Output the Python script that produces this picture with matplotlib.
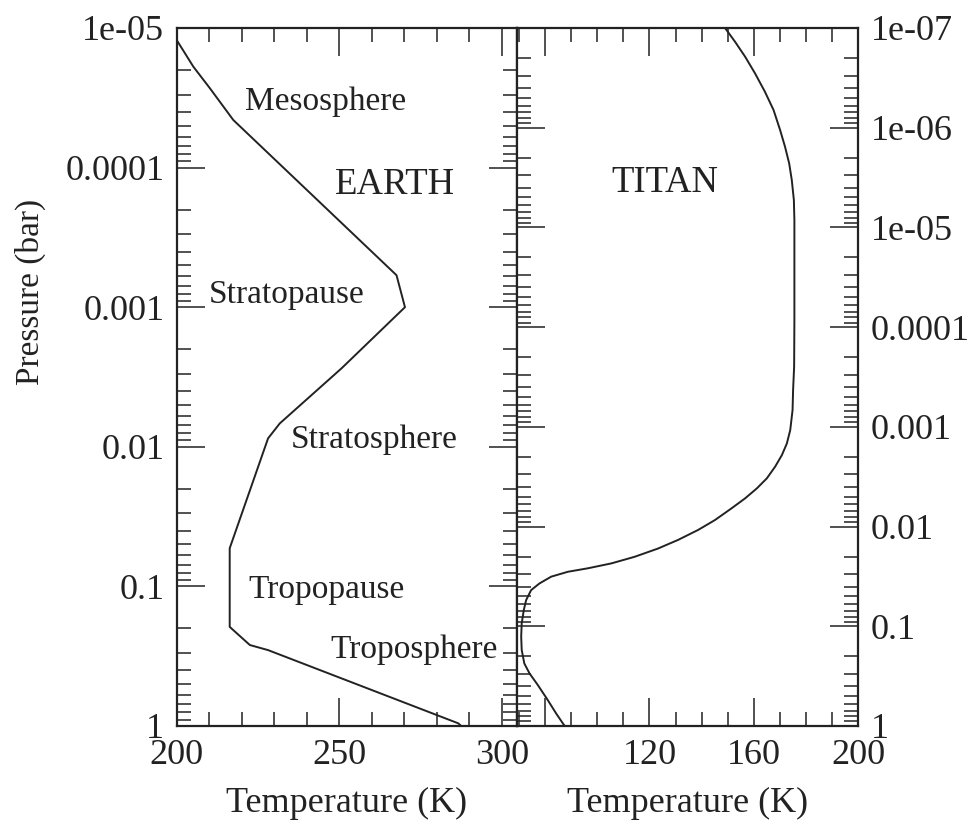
import matplotlib
matplotlib.use("Agg")
import matplotlib.pyplot as plt
from matplotlib.ticker import FixedLocator, LogLocator, FuncFormatter, NullFormatter
import numpy as np

plt.rcParams['font.family'] = ['Liberation Serif', 'DejaVu Serif']

# Earth temperature profile (K) vs pressure (bar)
earth_T = [200.0, 205.1, 210.2, 217.4, 267.6, 270.2, 250.7, 231.7, 228.1,
           216.3, 216.3, 222.5, 228.1, 286.6, 287.5]
earth_p = [1.22e-5, 1.89e-5, 2.70e-5, 4.56e-5, 5.9e-4, 1.0e-3, 2.74e-3, 6.8e-3, 8.7e-3,
           0.0533, 0.195, 0.263, 0.286, 0.957, 1.0]

# Titan temperature profile (K) vs pressure (bar)
titan_T = [149.0, 152.8, 156.7, 160.5, 164.3, 167.6, 170.1, 172.0, 173.6, 174.6, 175.4, 175.6,
           175.6, 175.5, 175.1, 174.9, 174.0, 172.7, 170.8, 168.2, 165.0, 161.2, 156.7, 151.5,
           145.1, 138.7, 131.0, 123.3, 114.3, 105.4, 96.4, 88.7, 82.3, 77.8, 74.6, 72.7, 71.8,
           71.0, 70.8, 71.0, 72.0, 74.0, 77.2, 81.0, 84.2, 86.8, 87.5]
titan_p = [1.0e-7, 1.37e-7, 1.94e-7, 2.85e-7, 4.36e-7, 6.64e-7, 1.05e-6, 1.55e-6, 2.28e-6, 3.35e-6, 5.31e-6, 8.43e-6,
           8.49e-5, 2.49e-4, 4.28e-4, 6.78e-4, 1.08e-3, 1.47e-3, 1.92e-3, 2.51e-3, 3.29e-3, 4.14e-3, 5.21e-3, 6.56e-3,
           8.61e-3, 1.08e-2, 1.36e-2, 1.66e-2, 2.01e-2, 2.34e-2, 2.62e-2, 2.84e-2, 3.18e-2, 3.72e-2, 4.34e-2, 5.46e-2, 6.87e-2,
           9.35e-2, 0.127, 0.173, 0.236, 0.297, 0.389, 0.550, 0.748, 0.942, 1.0]

earth_labels = ['Mesosphere', 'Stratopause', 'Stratosphere', 'Tropopause', 'Troposphere']
earth_label_T = [245.8, 233.9, 260.7, 246.2, 273.0]
earth_label_p = [3.39e-5, 8.2e-4, 8.9e-3, 0.106, 0.286]

earth_xticks = [200, 250, 300]
titan_xticks = [80, 120, 160, 200]
titan_xticklabels = ['', '120', '160', '200']

ink = '#222222'
W, H = 975, 825
fig = plt.figure(figsize=(W / 100, H / 100), dpi=100)

x0, x1, x2 = 176.7, 516.5, 858.0
yt, yb = 28.0, 726.0
axL = fig.add_axes([x0 / W, 1 - yb / H, (x1 - x0) / W, (yb - yt) / H])
axR = fig.add_axes([x1 / W, 1 - yb / H, (x2 - x1) / W, (yb - yt) / H])


def plabel(v, pos):
    e = int(round(np.log10(v)))
    if e <= -5:
        return '1e-%02d' % -e
    return ('%.*f' % (max(-e, 0), v))


for ax in (axL, axR):
    ax.set_yscale('log')
    ax.yaxis.set_major_locator(LogLocator(base=10, numticks=20))
    ax.yaxis.set_minor_locator(LogLocator(base=10, subs=np.arange(2, 10), numticks=20))
    ax.yaxis.set_major_formatter(FuncFormatter(plabel))
    ax.yaxis.set_minor_formatter(NullFormatter())
    ax.tick_params(which='both', direction='in', top=True, bottom=True, left=True, right=True,
                   colors=ink, labelsize=26, width=1.1, pad=9)
    ax.tick_params(which='major', length=20)
    ax.tick_params(which='minor', length=10)
    for s in ax.spines.values():
        s.set_linewidth(1.6)
        s.set_color(ink)

# Earth panel
axL.plot(earth_T, earth_p, color=ink, lw=1.4)
axL.set_xlim(200, 304.5)
axL.set_ylim(1.0, 1e-5)
axL.xaxis.set_major_locator(FixedLocator(earth_xticks))
axL.xaxis.set_minor_locator(FixedLocator(np.arange(200, 305, 10)))
axL.set_xlabel('Temperature (K)', fontsize=26, color=ink, labelpad=11)
for lab, t, p in zip(earth_labels, earth_label_T, earth_label_p):
    axL.text(t, p, lab, fontsize=24, color=ink, ha='center', va='center')
axL.text(267.0, 1.33e-4, 'EARTH', fontsize=26.5, color=ink, ha='center', va='center')

# Titan panel
axR.plot(titan_T, titan_p, color=ink, lw=1.4)
axR.set_xlim(69, 200)
axR.set_ylim(1.0, 1e-7)
axR.xaxis.set_major_locator(FixedLocator(titan_xticks))
axR.xaxis.set_minor_locator(FixedLocator(np.arange(70, 201, 10)))
axR.set_xticklabels(titan_xticklabels)
axR.tick_params(axis='y', which='both', labelleft=False, labelright=True)
axR.set_xlabel('Temperature (K)', fontsize=26, color=ink, labelpad=11)
axR.text(125.8, 3.59e-6, 'TITAN', fontsize=26.5, color=ink, ha='center', va='center')

fig.text(30 / W, 1 - 292 / H, 'Pressure (bar)', rotation=90, fontsize=24, color=ink,
         ha='center', va='center')

fig.savefig('out.png', dpi=100)
